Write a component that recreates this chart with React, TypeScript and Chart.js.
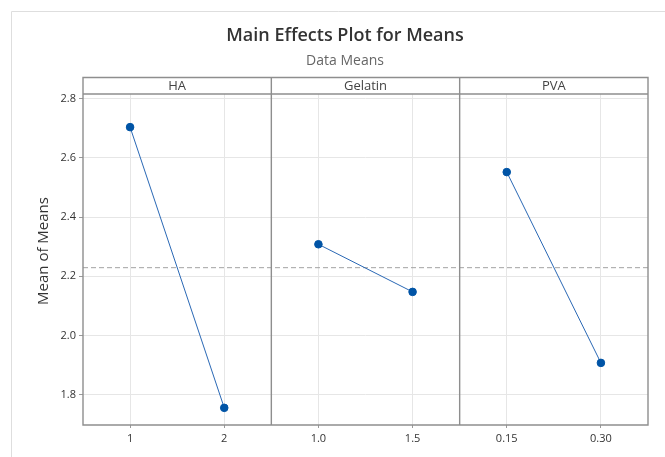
import React, { useEffect, useRef } from 'react';
import { Chart, registerables } from 'chart.js';

Chart.register(...registerables);

const chartTitle = 'Main Effects Plot for Means';
const chartSubtitle = 'Data Means';
const yAxisTitle = 'Mean of Means';

const factors = ['HA', 'Gelatin', 'PVA'];
const haLevels = ['1', '2'];
const haMeans = [2.704, 1.755];
const gelatinLevels = ['1.0', '1.5'];
const gelatinMeans = [2.308, 2.147];
const pvaLevels = ['0.15', '0.30'];
const pvaMeans = [2.552, 1.907];

const yTicks = [1.8, 2.0, 2.2, 2.4, 2.6, 2.8];
const yMin = 1.697;
const yMax = 2.816;

const FONT = '"Open Sans", "Noto Sans", sans-serif';

const levelSets = [haLevels, gelatinLevels, pvaLevels];
const meanSets = [haMeans, gelatinMeans, pvaMeans];

export default function App() {
  const ref = useRef<HTMLCanvasElement | null>(null);

  useEffect(() => {
    if (!ref.current) return;

    // panel offsets along a shared linear x scale
    const offsets: number[] = [];
    let acc = 0;
    levelSets.forEach((lv) => {
      offsets.push(acc);
      acc += lv.length;
    });
    const xTotal = acc;

    const tickPositions: number[] = [];
    const tickLabels: string[] = [];
    levelSets.forEach((lv, f) => {
      lv.forEach((label, i) => {
        tickPositions.push(offsets[f] + i + 0.5);
        tickLabels.push(label);
      });
    });

    const all = meanSets.flat();
    const grandMean = all.reduce((a, b) => a + b, 0) / all.length;

    const datasets: any[] = meanSets.map((means, f) => ({
      label: factors[f],
      data: means.map((m, i) => ({ x: offsets[f] + i + 0.5, y: m })),
      borderColor: '#2a68b5',
      borderWidth: 1,
      pointRadius: 3.8,
      pointBackgroundColor: '#0054a6',
      pointBorderColor: '#0054a6',
      pointBorderWidth: 1,
      showLine: true,
      order: 1,
    }));
    datasets.push({
      label: 'mean',
      data: [
        { x: 0, y: grandMean },
        { x: xTotal, y: grandMean },
      ],
      borderColor: '#a3a3a3',
      borderWidth: 1,
      borderDash: [5, 3],
      pointRadius: 0,
      showLine: true,
      order: 2,
    });

    const framePlugin = {
      id: 'framePlugin',
      beforeDraw(chart: any) {
        const ctx = chart.ctx;
        ctx.save();
        ctx.fillStyle = '#ffffff';
        ctx.fillRect(0, 0, chart.width, chart.height);
        ctx.strokeStyle = '#dedede';
        ctx.lineWidth = 1;
        ctx.beginPath();
        ctx.moveTo(11.5, chart.height);
        ctx.lineTo(11.5, 11.5);
        ctx.lineTo(chart.width, 11.5);
        ctx.stroke();
        ctx.restore();
      },
      afterDraw(chart: any) {
        const ctx = chart.ctx;
        const a = chart.chartArea;
        const xs = chart.scales.x;
        const stripTop = 77.5;
        ctx.save();
        // titles
        ctx.textAlign = 'center';
        ctx.textBaseline = 'alphabetic';
        ctx.fillStyle = '#333333';
        ctx.font = `600 18px ${FONT}`;
        ctx.fillText(chartTitle, 345, 41);
        ctx.fillStyle = '#666666';
        ctx.font = `14px ${FONT}`;
        ctx.fillText(chartSubtitle, 345, 65);

        // strip labels
        ctx.fillStyle = '#444444';
        ctx.font = `13px ${FONT}`;
        ctx.textBaseline = 'middle';
        levelSets.forEach((lv, f) => {
          const l = xs.getPixelForValue(offsets[f]);
          const r = xs.getPixelForValue(offsets[f] + lv.length);
          ctx.fillText(factors[f], (l + r) / 2, (stripTop + a.top) / 2 + 0.5);
        });

        // frame lines
        ctx.strokeStyle = '#8e8e8e';
        ctx.lineWidth = 1.4;
        ctx.beginPath();
        ctx.rect(a.left, stripTop, a.right - a.left, a.bottom - stripTop);
        ctx.moveTo(a.left, a.top);
        ctx.lineTo(a.right, a.top);
        offsets.slice(1).forEach((o) => {
          const x = xs.getPixelForValue(o);
          ctx.moveTo(x, stripTop);
          ctx.lineTo(x, a.bottom);
        });
        ctx.stroke();

        // y title
        ctx.translate(44, 251);
        ctx.rotate(-Math.PI / 2);
        ctx.fillStyle = '#333333';
        ctx.font = `15px ${FONT}`;
        ctx.textAlign = 'center';
        ctx.textBaseline = 'middle';
        ctx.fillText(yAxisTitle, 0, 0);
        ctx.restore();
      },
    };

    const chart = new Chart(ref.current, {
      type: 'scatter',
      data: { datasets },
      plugins: [framePlugin],
      options: {
        animation: false,
        responsive: false,
        layout: { padding: { top: 94, right: 17, bottom: 0, left: 0 } },
        plugins: {
          legend: { display: false },
          tooltip: { enabled: false },
          title: { display: false },
        },
        scales: {
          x: {
            type: 'linear',
            min: 0,
            max: xTotal,
            afterBuildTicks: (scale: any) => {
              scale.ticks = tickPositions.map((v) => ({ value: v }));
            },
            afterFit: (scale: any) => {
              scale.height = 32;
            },
            ticks: {
              autoSkip: false,
              maxRotation: 0,
              padding: 4,
              color: '#333333',
              font: { family: FONT, size: 11 },
              callback: (value: any) => {
                const idx = tickPositions.indexOf(Number(value));
                return idx >= 0 ? tickLabels[idx] : '';
              },
            },
            grid: {
              color: '#e6e6e6',
              tickColor: '#9a9a9a',
              tickLength: 3,
              lineWidth: 1,
            },
            border: { display: false },
          },
          y: {
            type: 'linear',
            min: yMin,
            max: yMax,
            afterBuildTicks: (scale: any) => {
              scale.ticks = yTicks.map((v) => ({ value: v }));
            },
            afterFit: (scale: any) => {
              scale.width = 83;
            },
            ticks: {
              padding: 3,
              color: '#333333',
              font: { family: FONT, size: 11 },
              callback: (value: any) => Number(value).toFixed(1),
            },
            grid: {
              color: '#e6e6e6',
              tickColor: '#9a9a9a',
              tickLength: 4,
              lineWidth: 1,
            },
            border: { display: false },
          },
        },
      },
    } as any);

    return () => chart.destroy();
  }, []);

  return (
    <div style={{ position: 'absolute', left: 0, top: 0, width: 665, height: 457, background: '#fff' }}>
      <canvas ref={ref} width={665} height={457} style={{ width: 665, height: 457, display: 'block' }} />
    </div>
  );
}
